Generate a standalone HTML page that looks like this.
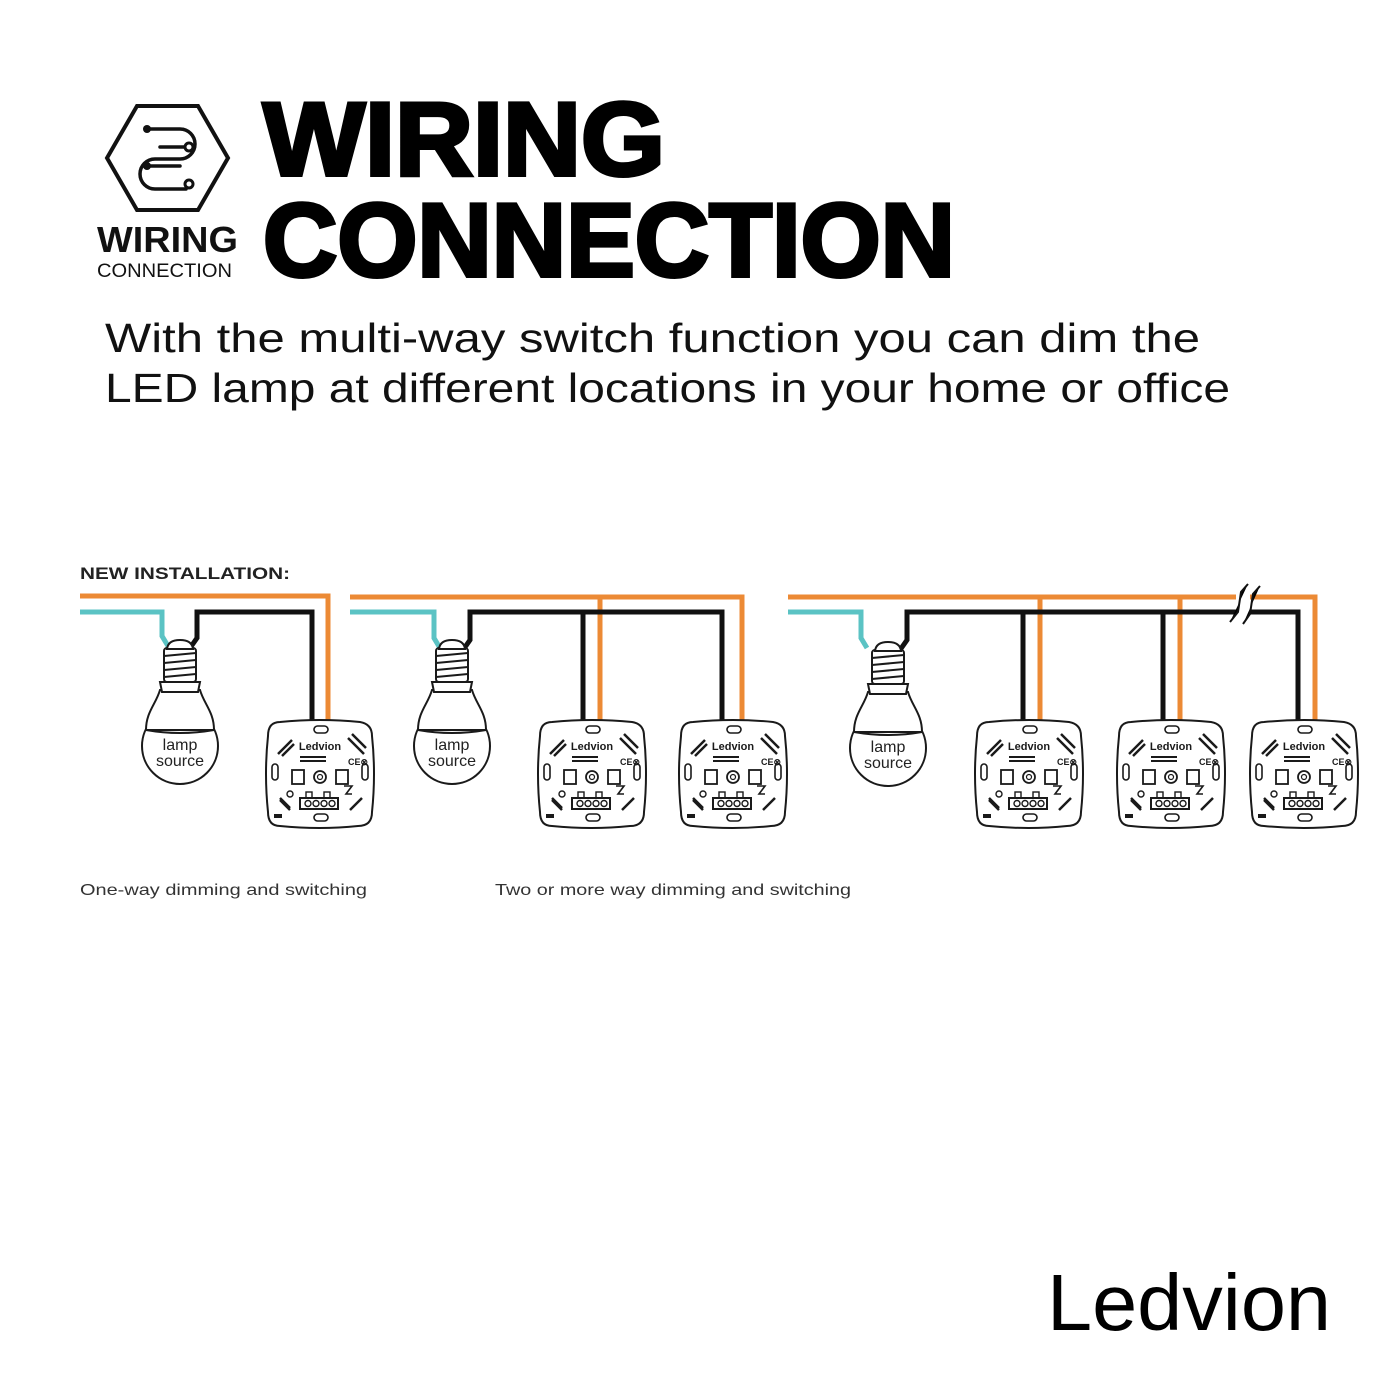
<!DOCTYPE html>
<html><head><meta charset="utf-8"><style>
html,body{margin:0;padding:0;background:#fff;}
svg{display:block;}
</style></head><body>
<svg width="1400" height="1400" viewBox="0 0 1400 1400" xmlns="http://www.w3.org/2000/svg">
<defs>
<g id="dim">
 <path d="M14,2 Q54,-2 94,2 Q106,4 106,16 Q110,54 106,92 Q106,106 92,106 Q54,110 14,106 Q2,106 2,92 Q-2,54 2,16 Q2,2 14,2 Z" fill="#fff" stroke="#1a1a1a" stroke-width="2"/>
 <rect x="48" y="6" width="14" height="7" rx="3.5" fill="none" stroke="#1a1a1a" stroke-width="1.6"/>
 <rect x="48" y="94" width="14" height="7" rx="3.5" fill="none" stroke="#1a1a1a" stroke-width="1.6"/>
 <rect x="6" y="44" width="6" height="16" rx="3" fill="none" stroke="#1a1a1a" stroke-width="1.6"/>
 <rect x="96" y="44" width="6" height="16" rx="3" fill="none" stroke="#1a1a1a" stroke-width="1.6"/>
 <text x="54" y="30" font-family="Liberation Sans,sans-serif" font-weight="bold" font-size="11" text-anchor="middle" fill="#1a1a1a">Ledvion</text>
 <g stroke="#1a1a1a" stroke-width="2.5"><line x1="12" y1="34" x2="26" y2="20"/><line x1="16" y1="36" x2="28" y2="24"/><line x1="82" y1="18" x2="98" y2="34"/><line x1="86" y1="14" x2="100" y2="28"/><line x1="12" y1="86" x2="22" y2="96" transform="translate(2,-8)"/><line x1="84" y1="90" x2="96" y2="78"/><line x1="14" y1="80" x2="24" y2="90"/></g>
 <rect x="34" y="36" width="26" height="2" fill="#1a1a1a"/><rect x="34" y="40" width="26" height="2" fill="#1a1a1a"/>
 <text x="82" y="45" font-family="Liberation Sans,sans-serif" font-weight="bold" font-size="9" fill="#1a1a1a">CE⊗</text>
 <rect x="26" y="50" width="12" height="14" fill="none" stroke="#1a1a1a" stroke-width="1.8"/>
 <circle cx="54" cy="57" r="6" fill="none" stroke="#1a1a1a" stroke-width="1.8"/><circle cx="54" cy="57" r="2.5" fill="none" stroke="#1a1a1a" stroke-width="1.2"/>
 <rect x="70" y="50" width="12" height="14" fill="none" stroke="#1a1a1a" stroke-width="1.8"/>
 <circle cx="24" cy="74" r="3" fill="none" stroke="#1a1a1a" stroke-width="1.4"/>
 <rect x="34" y="78" width="38" height="11" fill="none" stroke="#1a1a1a" stroke-width="2"/>
 <circle cx="42" cy="83.5" r="3" fill="none" stroke="#1a1a1a" stroke-width="1.4"/><circle cx="50" cy="83.5" r="3" fill="none" stroke="#1a1a1a" stroke-width="1.4"/><circle cx="58" cy="83.5" r="3" fill="none" stroke="#1a1a1a" stroke-width="1.4"/><circle cx="66" cy="83.5" r="3" fill="none" stroke="#1a1a1a" stroke-width="1.4"/>
 <rect x="40" y="72" width="6" height="6" fill="none" stroke="#1a1a1a" stroke-width="1.4"/><rect x="58" y="72" width="6" height="6" fill="none" stroke="#1a1a1a" stroke-width="1.4"/>
 <path d="M78,66 L86,66 L80,74 L86,74" fill="none" stroke="#1a1a1a" stroke-width="1.6"/>
 <rect x="8" y="94" width="8" height="4" fill="#1a1a1a"/>
</g>
<g id="bulb">
 <circle cx="0" cy="106" r="38" fill="#fff" stroke="#1a1a1a" stroke-width="2"/>
 <path d="M-20,50 C-24,64 -34,72 -34,90 L34,90 C34,72 24,64 20,50 Z" fill="#fff" stroke="#1a1a1a" stroke-width="2"/>
 <path d="M-34,90 Q0,96 34,90" fill="none" stroke="#1a1a1a" stroke-width="2"/>
 <path d="M-20,42 L20,42 L18,52 L-18,52 Z" fill="#fff" stroke="#1a1a1a" stroke-width="2"/>
 <rect x="-16" y="8" width="32" height="34" rx="3" fill="#fff" stroke="#1a1a1a" stroke-width="2"/>
 <g stroke="#1a1a1a" stroke-width="2"><line x1="-16" y1="16" x2="16" y2="13"/><line x1="-16" y1="23" x2="16" y2="20"/><line x1="-16" y1="30" x2="16" y2="27"/><line x1="-16" y1="37" x2="16" y2="34"/></g>
 <path d="M-13,9 Q-12,0 0,0 Q12,0 13,9 Z" fill="#fff" stroke="#1a1a1a" stroke-width="2"/>
 <text x="0" y="110" font-family="Liberation Sans,sans-serif" font-size="16" text-anchor="middle" fill="#222">lamp</text>
 <text x="0" y="126" font-family="Liberation Sans,sans-serif" font-size="16" text-anchor="middle" fill="#222">source</text>
</g>
</defs>

<polygon points="107,158 137,106 198,106 228,158 198,210 137,210" fill="none" stroke="#111" stroke-width="4"/>
<g fill="none" stroke="#111" stroke-width="3.5" stroke-linecap="round">
 <path d="M147,129 L180,129 A15,15 0 0 1 180,159 L155,159 A15,15 0 0 0 155,189 L186,189"/>
 <path d="M147,166 L180,166"/>
 <path d="M160,147 L186,147"/>
</g>
<circle cx="147" cy="129" r="4" fill="#111"/><circle cx="147" cy="166" r="4" fill="#111"/>
<circle cx="189" cy="147" r="4" fill="#fff" stroke="#111" stroke-width="3"/><circle cx="189" cy="184" r="4" fill="#fff" stroke="#111" stroke-width="3"/>
<text x="97" y="252" font-family="Liberation Sans,sans-serif" font-weight="bold" font-size="36" textLength="141" lengthAdjust="spacingAndGlyphs" fill="#111">WIRING</text>
<text x="97" y="277" font-family="Liberation Sans,sans-serif" font-size="19" textLength="135" lengthAdjust="spacingAndGlyphs" fill="#111">CONNECTION</text>

<text x="263" y="175" font-family="Liberation Sans,sans-serif" font-weight="900" font-size="104" textLength="402" lengthAdjust="spacingAndGlyphs" fill="#000" stroke="#000" stroke-width="4">WIRING</text>
<text x="263" y="276" font-family="Liberation Sans,sans-serif" font-weight="900" font-size="104" textLength="692" lengthAdjust="spacingAndGlyphs" fill="#000" stroke="#000" stroke-width="4">CONNECTION</text>

<text x="105" y="352" font-family="Liberation Sans,sans-serif" font-size="41" textLength="1095" lengthAdjust="spacingAndGlyphs" fill="#111">With the multi-way switch function you can dim the</text>
<text x="105" y="402" font-family="Liberation Sans,sans-serif" font-size="41" textLength="1125" lengthAdjust="spacingAndGlyphs" fill="#111">LED lamp at different locations in your home or office</text>

<text x="80" y="579" font-family="Liberation Sans,sans-serif" font-weight="bold" font-size="17" textLength="210" lengthAdjust="spacingAndGlyphs" fill="#222">NEW INSTALLATION:</text>

<g fill="none" stroke-width="5" stroke-linejoin="miter">
 <path d="M80,596 L328,596 L328,722" stroke="#ec8a35"/>
 <path d="M80,612 L162,612 L162,636 L168,646" stroke="#5bc3c4"/>
 <path d="M190,648 L197,638 L197,612 L312,612 L312,722" stroke="#111"/>
 <path d="M350,597 L742,597 L742,722 M600,597 L600,722" stroke="#ec8a35"/>
 <path d="M350,612 L434,612 L434,638 L440,648" stroke="#5bc3c4"/>
 <path d="M463,650 L470,640 L470,612 L722,612 L722,722 M583,612 L583,722" stroke="#111"/>
 <path d="M788,597 L1315,597 L1315,722 M1040,597 L1040,722 M1180,597 L1180,722" stroke="#ec8a35"/>
 <path d="M788,612 L861,612 L861,638 L867,648" stroke="#5bc3c4"/>
 <path d="M900,650 L907,640 L907,612 L1298,612 L1298,722 M1023,612 L1023,722 M1163,612 L1163,722" stroke="#111"/>
</g>
<rect x="1236" y="588" width="14" height="34" fill="#fff"/>
<g stroke="#111" stroke-width="2"><path d="M1230,622 L1238,612 L1241,592 L1248,584"/><path d="M1243,624 L1250,614 L1253,594 L1260,586"/></g>

<use href="#bulb" x="180" y="640"/>
<use href="#bulb" x="452" y="640"/>
<use href="#bulb" x="888" y="642"/>

<use href="#dim" x="266" y="720"/>
<use href="#dim" x="538" y="720"/>
<use href="#dim" x="679" y="720"/>
<use href="#dim" x="975" y="720"/>
<use href="#dim" x="1117" y="720"/>
<use href="#dim" x="1250" y="720"/>

<text x="80" y="895" font-family="Liberation Sans,sans-serif" font-size="16" textLength="287" lengthAdjust="spacingAndGlyphs" fill="#333">One-way dimming and switching</text>
<text x="495" y="895" font-family="Liberation Sans,sans-serif" font-size="16" textLength="356" lengthAdjust="spacingAndGlyphs" fill="#333">Two or more way dimming and switching</text>

<text x="1047" y="1330" font-family="Liberation Sans,sans-serif" font-size="80" textLength="284" lengthAdjust="spacingAndGlyphs" fill="#000">Ledvion</text>
</svg>
</body></html>
